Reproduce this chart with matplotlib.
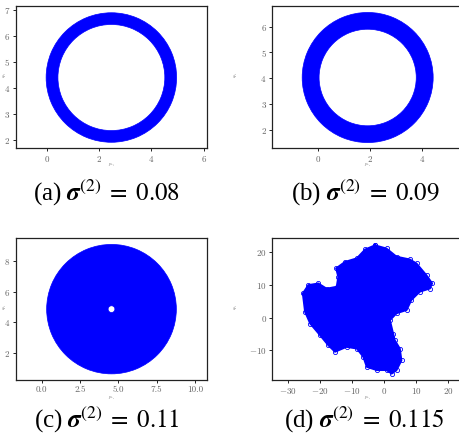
import matplotlib
matplotlib.use("Agg")
import matplotlib.pyplot as plt
from matplotlib.patches import Wedge

plt.rcParams['mathtext.fontset'] = 'stix'
plt.rcParams['axes.formatter.use_mathtext'] = True

# ring / disc parameters: centre x, centre y, outer radius, inner radius
ring_a = [2.47, 4.40, 2.49, 2.04]
ring_b = [1.90, 4.03, 2.52, 1.87]
disc_c = [4.55, 4.86, 4.23, 0.22]

# outline of the chaotic cloud in (d)
blob_x = [-2.9, 0.7, 3.85, 8.0, 10.1, 13.2, 15.0, 14.3, 11.1, 8.5, 7.0, 3.85, 1.8, 2.8,
          3.3, 4.9, 5.4, 3.85, 2.3, 0.7, -2.4, -5.5, -6.6, -8.6, -11.8, -15.4, -17.5,
          -20.1, -23.2, -24.8, -25.5, -23.75, -20.6, -18.0, -14.9, -14.4, -15.1, -12.3,
          -8.6, -6.0, -2.9]
blob_y = [22.2, 21.2, 18.7, 17.85, 16.6, 13.0, 10.5, 8.9, 7.9, 5.4, 2.3, 1.3, -0.8, -4.9,
          -6.9, -9.5, -13.1, -16.1, -17.2, -16.1, -16.1, -15.1, -12.0, -9.5, -9.0, -10.5,
          -8.5, -5.4, -1.8, 1.8, 7.4, 10.0, 10.5, 8.9, 9.5, 12.5, 15.1, 17.1, 18.2, 20.9,
          22.2]

captions = [r"(a) $\boldsymbol{\sigma}^{(2)}\;=\;0.08$", r"(b) $\boldsymbol{\sigma}^{(2)}\;=\;0.09$",
            r"(c) $\boldsymbol{\sigma}^{(2)}\;=\;0.11$", r"(d) $\boldsymbol{\sigma}^{(2)}\;=\;0.115$"]
xlabels = [r"$p_{e_1}$", r"$p_{e_2}$", r"$p_{e_c}$", r"$p_{e_c}$"]
ylabels = [r"$q_{e_1}$", r"$q_{e_2}$", r"$q_{e_c}$", r"$q_{e_c}$"]
xticks = [[0, 2, 4, 6], [0, 2, 4], [0.0, 2.5, 5.0, 7.5, 10.0], [-30, -20, -10, 0, 10, 20]]
yticks = [[2, 3, 4, 5, 6, 7], [2, 3, 4, 5, 6], [2, 4, 6, 8], [-10, 0, 10, 20]]
xlims = [(-1.17, 6.12), (-1.77, 5.58), (-1.68, 10.78), (-35, 24.7)]
ylims = [(1.69, 7.15), (1.30, 6.80), (0.21, 9.49), (-19.2, 24.3)]

fig = plt.figure(figsize=(4.6, 4.4), dpi=100)
W, H = 460.0, 440.0
boxes = [(16, 6), (272.3, 6), (16, 238.3), (272.3, 238.3)]
cap_pos = [(107, 193), (365, 193), (107, 420), (364, 420)]

axes = []
for i, (lx, ty) in enumerate(boxes):
    ax = fig.add_axes([lx / W, 1 - (ty + 142) / H, 191 / W, 142 / H])
    ax.set_xlim(*xlims[i])
    ax.set_ylim(*ylims[i])
    ax.set_xticks(xticks[i])
    ax.set_yticks(yticks[i])
    if i == 2:
        ax.set_xticklabels(["%.1f" % v for v in xticks[i]])
    ax.tick_params(direction='out', length=2, width=0.6, labelsize=6.5,
                   labelcolor='#666666', pad=2)
    for lab in ax.get_xticklabels() + ax.get_yticklabels():
        lab.set_family('cmr10')
    for s in ax.spines.values():
        s.set_linewidth(0.9)
        s.set_color('#222222')
    ax.set_xlabel(xlabels[i], fontsize=3.5, color='#777777')
    ax.set_ylabel(ylabels[i], fontsize=3.5, color='#777777')
    if i in (0, 2):
        ax.yaxis.set_label_coords(-0.035, 0.52)
    else:
        ax.yaxis.set_label_coords(-0.17, 0.52)
    ax.xaxis.set_label_coords(0.5, -0.1)
    fig.text(cap_pos[i][0] / W, 1 - cap_pos[i][1] / H, captions[i], ha='center',
             va='center', fontsize=18, family='Liberation Serif')
    axes.append(ax)

for ax, p in zip(axes[:3], [ring_a, ring_b, disc_c]):
    ax.add_patch(Wedge((p[0], p[1]), p[2], 0, 360, width=p[2] - p[3],
                       facecolor='#0000ff', edgecolor='#0000ff', linewidth=0.5))

axes[3].fill(blob_x, blob_y, color='#0000ff', linewidth=0)
axes[3].plot(blob_x, blob_y, color='#0000ff', linewidth=1.2, marker='o',
             markersize=3, markerfacecolor='none', markeredgewidth=0.6)

fig.savefig("out.png", dpi=100)
